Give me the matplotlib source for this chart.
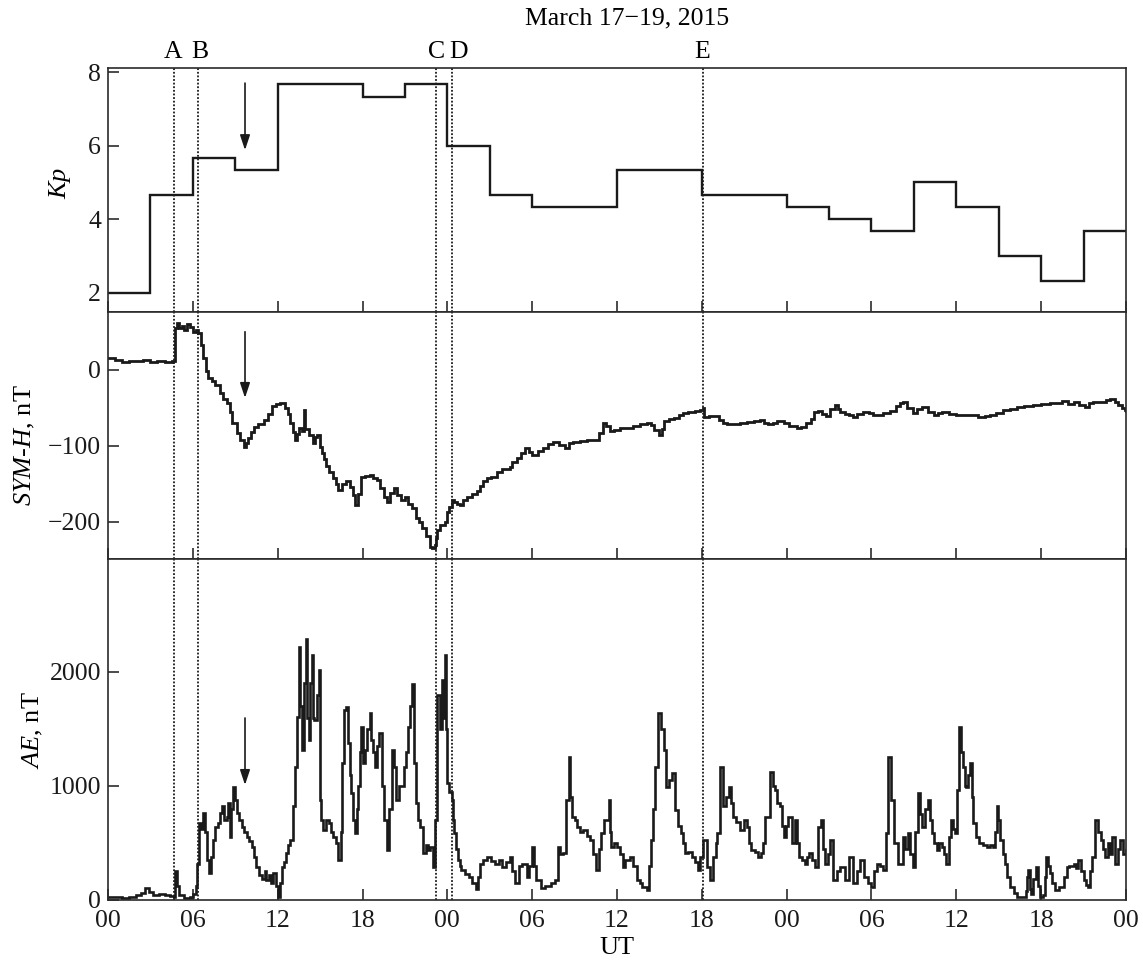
import numpy as np
import matplotlib
matplotlib.use("Agg")
import matplotlib.pyplot as plt

plt.rcParams["font.family"] = ["Liberation Serif", "DejaVu Serif"]
plt.rcParams["mathtext.fontset"] = "custom"
plt.rcParams["mathtext.rm"] = "Liberation Serif"
plt.rcParams["mathtext.it"] = "Liberation Serif:italic"

# Kp, 3-hour values, 17 March 00 UT - 20 March 00 UT
kp = [2.0, 4.67, 5.67, 5.33, 7.67, 7.67, 7.33, 7.67,
      6.0, 4.67, 4.33, 4.33, 5.33, 5.33, 4.67, 4.67,
      4.33, 4.0, 3.67, 5.0, 4.33, 3.0, 2.33, 3.67]

# SYM-H (nT), hours from 17 March 00 UT
sym_hours = [0.0, 0.5, 1.0, 1.5, 2.0, 2.5, 3.0, 3.5, 4.0, 4.5, 4.7, 4.75, 4.85, 5.0, 5.2, 5.4, 5.6, 5.8,
             6.0, 6.2, 6.4, 6.55, 6.7, 6.9, 7.1, 7.35, 7.6, 7.9, 8.15, 8.4, 8.6, 8.8, 9.1, 9.35, 9.6, 9.75,
             9.9, 10.1, 10.3, 10.6, 11.0, 11.3, 11.6, 11.9, 12.2, 12.5, 12.7, 12.9, 13.05, 13.2, 13.35, 13.5,
             13.7, 13.85, 13.95, 14.2, 14.5, 14.65, 14.8, 15.0, 15.15, 15.3, 15.45, 15.6, 15.9, 16.1, 16.3,
             16.55, 16.8, 17.1, 17.3, 17.5, 17.7, 17.9, 18.2, 18.5, 18.75, 19.0, 19.25, 19.5, 19.7, 19.95,
             20.2, 20.45, 20.7, 21.0, 21.25, 21.5, 21.8, 22.0, 22.2, 22.5, 22.8, 22.95, 23.1, 23.2, 23.3,
             23.5, 23.8, 24.0, 24.15, 24.3, 24.5, 24.7, 24.9, 25.1, 25.4, 25.75, 26.1, 26.3, 26.5, 26.8,
             27.1, 27.5, 27.9, 28.4, 28.6, 28.9, 29.2, 29.5, 29.75, 30.0, 30.4, 30.8, 31.1, 31.5, 31.9,
             32.3, 32.6, 32.9, 33.4, 33.9, 34.3, 34.7, 35.0, 35.2, 35.5, 35.8, 36.2, 36.6, 37.1, 37.6,
             38.1, 38.4, 38.6, 39.0, 39.15, 39.3, 39.7, 40.0, 40.4, 40.7, 41.0, 41.5, 41.9, 42.05, 42.15,
             42.5, 42.8, 43.2, 43.5, 43.8, 44.2, 44.7, 45.2, 45.7, 46.1, 46.4, 46.7, 47.0, 47.3, 47.8,
             48.2, 48.7, 49.0, 49.4, 49.7, 49.9, 50.2, 50.5, 50.8, 51.1, 51.4, 51.6, 51.8, 52.1, 52.4,
             52.7, 53.0, 53.4, 53.8, 54.1, 54.4, 54.8, 55.3, 55.7, 56.0, 56.2, 56.5, 56.9, 57.2, 57.6,
             58.0, 58.4, 58.7, 59.0, 59.5, 60.0, 60.5, 61.0, 61.5, 62.0, 62.4, 62.8, 63.3, 63.8, 64.3,
             64.8, 65.4, 66.0, 66.6, 67.0, 67.5, 67.9, 68.3, 68.7, 69.1, 69.4, 69.7, 70.2, 70.6, 70.9,
             71.2, 71.4, 71.7, 71.9, 72.0]
sym_h = [16, 13, 10, 12, 11, 13, 10, 11, 10, 12, 11, 55, 62, 55, 58, 52, 60, 56,
         50, 52, 48, 33, 15, -2, -11, -15, -20, -31, -38, -44, -55, -70, -83, -92, -101, -97,
         -90, -82, -75, -72, -66, -58, -48, -45, -44, -50, -58, -70, -82, -92, -85, -77,
         -80, -53, -78, -86, -96, -88, -86, -101, -110, -118, -126, -134, -142, -150, -158,
         -150, -147, -154, -165, -178, -164, -141, -140, -138, -142, -145, -155, -168, -174, -162,
         -155, -165, -171, -168, -176, -182, -195, -200, -208, -219, -233, -234, -230, -222, -211,
         -204, -200, -187, -180, -171, -174, -176, -178, -172, -168, -164, -160, -153, -147, -143,
         -141, -134, -131, -128, -122, -116, -110, -103, -108, -112, -107, -103, -98, -95, -99,
         -103, -97, -95, -94, -93, -92, -83, -70, -74, -81, -79, -77, -76, -74, -72,
         -70, -73, -79, -86, -78, -68, -65, -63, -60, -57, -55, -54, -53, -50, -62,
         -61, -61, -66, -70, -72, -71, -70, -69, -67, -66, -70, -72, -70, -68, -70,
         -74, -77, -75, -70, -65, -56, -54, -58, -61, -52, -47, -52, -55, -58, -60,
         -62, -58, -55, -57, -60, -59, -57, -54, -48, -44, -42, -50, -57, -52, -49,
         -56, -59, -57, -55, -58, -59, -60, -60, -62, -61, -60, -57, -53, -51, -49,
         -48, -46, -45, -44, -44, -41, -45, -42, -46, -49, -44, -42, -42, -40, -38,
         -42, -47, -50, -53, -54]

# AE (nT), hours from 17 March 00 UT
ae_hours = [0.0, 0.5, 1.0, 1.5, 2.0, 2.3, 2.6, 2.9, 3.2, 3.6, 4.0, 4.4, 4.7, 4.75, 4.85, 5.0, 5.4, 5.8,
            6.0, 6.2, 6.3, 6.45, 6.6, 6.7, 6.85, 7.0, 7.15, 7.3, 7.45, 7.6, 7.8, 7.95, 8.05, 8.2, 8.4,
            8.5, 8.6, 8.7, 8.85, 9.0, 9.1, 9.3, 9.45, 9.6, 9.8, 10.0, 10.2, 10.35, 10.5, 10.7, 10.9,
            11.1, 11.2, 11.4, 11.5, 11.7, 11.85, 12.0, 12.15, 12.3, 12.45, 12.6, 12.75, 12.9, 13.05,
            13.2, 13.35, 13.5, 13.6, 13.7, 13.85, 14.0, 14.1, 14.2, 14.3, 14.4, 14.5, 14.6, 14.75,
            14.9, 15.0, 15.1, 15.2, 15.4, 15.6, 15.8, 15.9, 16.1, 16.3, 16.45, 16.55, 16.7, 16.85,
            17.0, 17.1, 17.2, 17.35, 17.5, 17.6, 17.7, 17.8, 17.9, 18.05, 18.2, 18.35, 18.5, 18.6,
            18.75, 18.9, 19.05, 19.2, 19.35, 19.5, 19.7, 19.85, 20.1, 20.2, 20.4, 20.6, 20.9, 21.05,
            21.2, 21.35, 21.5, 21.65, 21.8, 21.95, 22.1, 22.3, 22.5, 22.65, 22.8, 23.0, 23.15, 23.3,
            23.45, 23.6, 23.7, 23.8, 23.9, 24.0, 24.15, 24.3, 24.4, 24.5, 24.6, 24.75, 24.9, 25.0,
            25.25, 25.5, 25.75, 26.0, 26.15, 26.3, 26.5, 26.8, 27.1, 27.4, 27.65, 27.9, 28.15, 28.4,
            28.6, 28.8, 29.05, 29.3, 29.6, 29.8, 30.0, 30.15, 30.3, 30.6, 30.9, 31.3, 31.6, 31.8,
            32.0, 32.2, 32.4, 32.6, 32.7, 32.8, 33.0, 33.2, 33.4, 33.6, 33.85, 34.1, 34.3, 34.5,
            34.7, 34.9, 35.1, 35.4, 35.5, 35.6, 35.8, 36.0, 36.2, 36.4, 36.6, 36.9, 37.1, 37.4,
            37.6, 37.8, 38.1, 38.25, 38.4, 38.55, 38.7, 38.9, 39.1, 39.3, 39.5, 39.7, 39.9, 40.1,
            40.3, 40.5, 40.65, 40.8, 41.0, 41.3, 41.5, 41.7, 41.9, 42.1, 42.35, 42.6, 42.8, 43.0,
            43.1, 43.3, 43.5, 43.7, 43.9, 44.05, 44.2, 44.45, 44.7, 44.95, 45.2, 45.35, 45.5, 45.75,
            46.0, 46.15, 46.3, 46.5, 46.8, 47.0, 47.2, 47.35, 47.5, 47.65, 47.8, 47.95, 48.1, 48.35,
            48.6, 48.75, 48.9, 49.1, 49.3, 49.45, 49.6, 49.8, 50.0, 50.2, 50.4, 50.55, 50.7, 50.9,
            51.1, 51.3, 51.55, 51.8, 52.1, 52.4, 52.7, 52.95, 53.2, 53.5, 53.75, 54.0, 54.2, 54.4,
            54.6, 54.8, 55.0, 55.2, 55.4, 55.6, 55.9, 56.2, 56.4, 56.6, 56.75, 56.9, 57.1, 57.3,
            57.45, 57.6, 57.8, 58.0, 58.15, 58.3, 58.45, 58.6, 58.8, 59.0, 59.15, 59.3, 59.45, 59.6,
            59.75, 59.9, 60.05, 60.2, 60.35, 60.5, 60.6, 60.7, 60.85, 61.0, 61.1, 61.2, 61.4, 61.6,
            61.9, 62.2, 62.4, 62.6, 62.75, 62.85, 62.95, 63.1, 63.3, 63.45, 63.6, 63.8, 64.05, 64.3,
            64.5, 64.7, 64.9, 65.0, 65.1, 65.2, 65.3, 65.45, 65.6, 65.75, 65.9, 66.1, 66.25, 66.35,
            66.5, 66.6, 66.8, 67.0, 67.25, 67.5, 67.65, 67.8, 68.0, 68.3, 68.45, 68.6, 68.8, 69.0,
            69.2, 69.3, 69.45, 69.6, 69.8, 70.0, 70.2, 70.35, 70.5, 70.7, 70.85, 71.0, 71.2, 71.4,
            71.6, 71.8, 72.0]
ae = [30, 25, 20, 25, 40, 60, 105, 70, 45, 50, 40, 35, 30, 250, 120, 40, 20, 25,
      55, 120, 320, 675, 620, 760, 600, 350, 235, 380, 525, 640, 675, 760, 820, 700, 730,
      850, 555, 800, 990, 880, 760, 700, 640, 600, 555, 520, 465, 380, 290, 220, 180,
      250, 175, 220, 150, 235, 120, 30, 150, 290, 330, 410, 480, 525, 820,
      1170, 1605, 2220, 1700, 1315, 1900, 2290, 1600, 1400, 1900, 2150, 1600, 1580, 1800,
      2020, 877, 700, 615, 700, 675, 600, 555, 500, 350, 600, 1200, 1665, 1690,
      1375, 1100, 940, 700, 585, 800, 1000, 1300, 1520, 1200, 1315, 1500, 1640, 1400,
      1300, 1170, 1350, 1465, 1000, 700, 440, 800, 1315, 1170, 877, 1000, 1170, 1300,
      1520, 1700, 1890, 1200, 850, 700, 640, 410, 480, 440, 465, 290, 700, 1800,
      1500, 1930, 1600, 2150, 1500, 1025, 950, 877, 700, 585, 450, 350, 300, 265,
      230, 205, 150, 100, 200, 320, 350, 380, 340, 320, 350, 290, 330, 380,
      250, 150, 300, 320, 205, 300, 465, 300, 175, 105, 120, 150, 175, 465,
      400, 410, 877, 1255, 900, 730, 700, 640, 600, 615, 560, 525, 400, 265,
      450, 585, 700, 877, 600, 465, 500, 465, 400, 290, 350, 380, 300, 175,
      150, 115, 90, 300, 525, 800, 1170, 1640, 1500, 1315, 990, 1050, 1110, 790,
      650, 585, 500, 410, 420, 380, 330, 265, 380, 525, 290, 175, 380, 500,
      585, 1170, 820, 900, 990, 850, 730, 680, 615, 700, 640, 500, 440, 420,
      380, 410, 500, 730, 1125, 1000, 965, 850, 820, 650, 555, 650, 730, 500,
      700, 500, 380, 350, 320, 380, 410, 350, 290, 640, 700, 450, 320, 400,
      525, 175, 250, 290, 175, 380, 150, 250, 350, 205, 150, 115, 250, 320,
      300, 265, 585, 1255, 877, 500, 320, 555, 450, 585, 400, 290, 600, 940,
      750, 640, 800, 877, 700, 585, 500, 440, 500, 465, 400, 320, 550, 700,
      620, 585, 965, 1520, 1300, 1170, 1000, 990, 1100, 1200, 900, 675, 550, 500,
      480, 465, 480, 465, 600, 820, 700, 525, 400, 320, 200, 115, 60, 30,
      25, 30, 80, 200, 265, 100, 50, 180, 290, 120, 30, 45, 200, 380,
      300, 235, 150, 90, 110, 115, 200, 290, 300, 320, 280, 350, 250, 175,
      130, 115, 250, 380, 700, 600, 525, 450, 380, 500, 400, 555, 320, 450,
      525, 400, 440]

# event markers
event_names = ["A", "B", "C", "D", "E"]
event_hours = [4.67, 6.39, 23.22, 24.35, 42.06]
arrow_hour = 9.69

W_PX, H_PX = 1143, 964
fig = plt.figure(figsize=(W_PX / 100, H_PX / 100), dpi=100)
left, right = 108, 1126


def box(top, bottom):
    return [left / W_PX, 1 - bottom / H_PX, (right - left) / W_PX, (bottom - top) / H_PX]


ax_kp = fig.add_axes(box(68, 312))
ax_sym = fig.add_axes(box(312, 559))
ax_ae = fig.add_axes(box(559, 900))
axes = [ax_kp, ax_sym, ax_ae]

line_kw = dict(color="#1a1a1a", solid_joinstyle="miter")
edges = np.arange(0, 3 * len(kp) + 1, 3)
ax_kp.step(edges, kp + [kp[-1]], where="post", lw=1.7, **line_kw)
ax_sym.step(sym_hours, sym_h, where="post", lw=2.0, **line_kw)
ax_ae.step(ae_hours, ae, where="post", lw=1.9, **line_kw)

ax_kp.set_ylim(1.48, 8.11)
ax_kp.set_yticks([2, 4, 6, 8])
ax_sym.set_ylim(-249, 76)
ax_sym.set_yticks([-200, -100, 0])
ax_ae.set_ylim(0, 2990)
ax_ae.set_yticks([0, 1000, 2000])

for ax in axes:
    ax.set_xlim(0, 72)
    ax.set_xticks(np.arange(0, 73, 6))
    ax.tick_params(direction="in", length=8, width=1.1, labelsize=18.5,
                   top=False, right=False, colors="#1a1a1a")
    ax.tick_params(axis="x", pad=7)
    ax.tick_params(axis="y", pad=5)
    for s in ax.spines.values():
        s.set_linewidth(1.2)
        s.set_color("#2a2a2a")
    for h in event_hours:
        ax.axvline(h, color="#1a1a1a", lw=1.3, linestyle=(0, (1.0, 1.0)))

ax_kp.tick_params(labelbottom=False)
ax_sym.tick_params(labelbottom=False)
ax_ae.set_xticklabels(["00", "06", "12", "18"] * 3 + ["00"])

# arrows at the time of interest
arrow_kw = dict(arrowstyle="-|>,head_length=0.9,head_width=0.3", color="#1a1a1a", lw=1.2,
                shrinkA=0, shrinkB=0)
ax_kp.annotate("", xy=(arrow_hour, 5.88), xytext=(arrow_hour, 7.70), arrowprops=arrow_kw)
ax_sym.annotate("", xy=(arrow_hour, -37), xytext=(arrow_hour, 50), arrowprops=arrow_kw)
ax_ae.annotate("", xy=(arrow_hour, 1009), xytext=(arrow_hour, 1596), arrowprops=arrow_kw)

# labels
label_x = [173, 200, 437, 459, 702]
for name, lx in zip(event_names, label_x):
    fig.text(lx / W_PX, 1 - 52 / H_PX, name, ha="center", va="center", fontsize=18.5)
fig.text(627 / W_PX, 1 - 18 / H_PX, "March 17\u221219, 2015", ha="center", va="center", fontsize=18.5)

fig.text(60 / W_PX, 1 - 183 / H_PX, r"$Kp$", rotation=90, ha="center", va="center", fontsize=19)
fig.text(25 / W_PX, 1 - 445 / H_PX, r"$SYM$-$H$, nT", rotation=90, ha="center", va="center", fontsize=19)
fig.text(33 / W_PX, 1 - 730 / H_PX, r"$AE$, nT", rotation=90, ha="center", va="center", fontsize=19)
fig.text(617 / W_PX, 1 - 948 / H_PX, "UT", ha="center", va="center", fontsize=19)

fig.savefig("out.png", dpi=100, facecolor="white")
